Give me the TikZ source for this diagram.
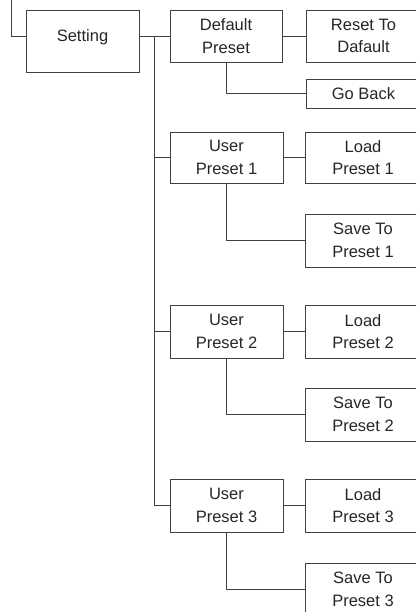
\documentclass[tikz,border=0pt]{standalone}
\usepackage{fontspec}
\setmainfont{Liberation Sans}
\begin{document}
\begin{tikzpicture}[x=1bp,y=-1bp,
  line width=0.9bp, draw=black!75,
  every node/.style={font=\fontsize{16.5bp}{22.6bp}\selectfont, text=black!85},
  menubox/.style={draw=black!75, line width=0.9bp, align=center, inner sep=0pt, minimum width=#1},
  menubox/.default=113bp]
\clip (0,0) rectangle (416,612);
% Setting
\node[menubox, minimum height=62bp] (setting) at (82.5,41) {};
\node (settingtxt) at (82.5,37) {Setting};
\coordinate (stubtop) at (11,0);
\coordinate (stubend) at (26,36);
\draw (stubtop) |- (stubend);
% Level 2
\node[menubox=112bp, minimum height=52bp] (default) at (226,36) {Default\\Preset};
\node[menubox, minimum height=51bp] (user1) at (226.5,157.5) {User\\Preset 1};
\node[menubox, minimum height=53bp] (user2) at (226.5,331.5) {User\\Preset 2};
\node[menubox, minimum height=53bp] (user3) at (226.5,505.5) {User\\Preset 3};
% Level 3
\node[menubox=115bp, minimum height=52bp] (reset) at (363.5,36) {Reset To\\Dafault};
\node[menubox=115bp, minimum height=29bp] (goback) at (363.5,93.5) {Go Back};
\node[menubox=116bp, minimum height=51bp] (load1) at (363,157.5) {Load\\Preset 1};
\node[menubox=116bp, minimum height=53bp] (save1) at (363,240.5) {Save To\\Preset 1};
\node[menubox=116bp, minimum height=53bp] (load2) at (363,331.5) {Load\\Preset 2};
\node[menubox=116bp, minimum height=53bp] (save2) at (363,414.5) {Save To\\Preset 2};
\node[menubox=116bp, minimum height=53bp] (load3) at (363,505.5) {Load\\Preset 3};
\node[menubox=116bp, minimum height=53bp] (save3) at (363,589.5) {Save To\\Preset 3};
% connectors
\coordinate (sete) at (setting.east |- default.west);
\draw (sete) -- (default.west);
\coordinate (trunk) at (154,36);
\draw (trunk) |- (user3.west);
\draw (trunk) |- (user1.west);
\draw (trunk) |- (user2.west);
\draw (default.east) -- (reset.west);
\draw (default.south) |- (goback.west);
\draw (user1.east) -- (load1.west);
\draw (user1.south) |- (save1.west);
\draw (user2.east) -- (load2.west);
\draw (user2.south) |- (save2.west);
\draw (user3.east) -- (load3.west);
\draw (user3.south) |- (save3.west);
\end{tikzpicture}
\end{document}
